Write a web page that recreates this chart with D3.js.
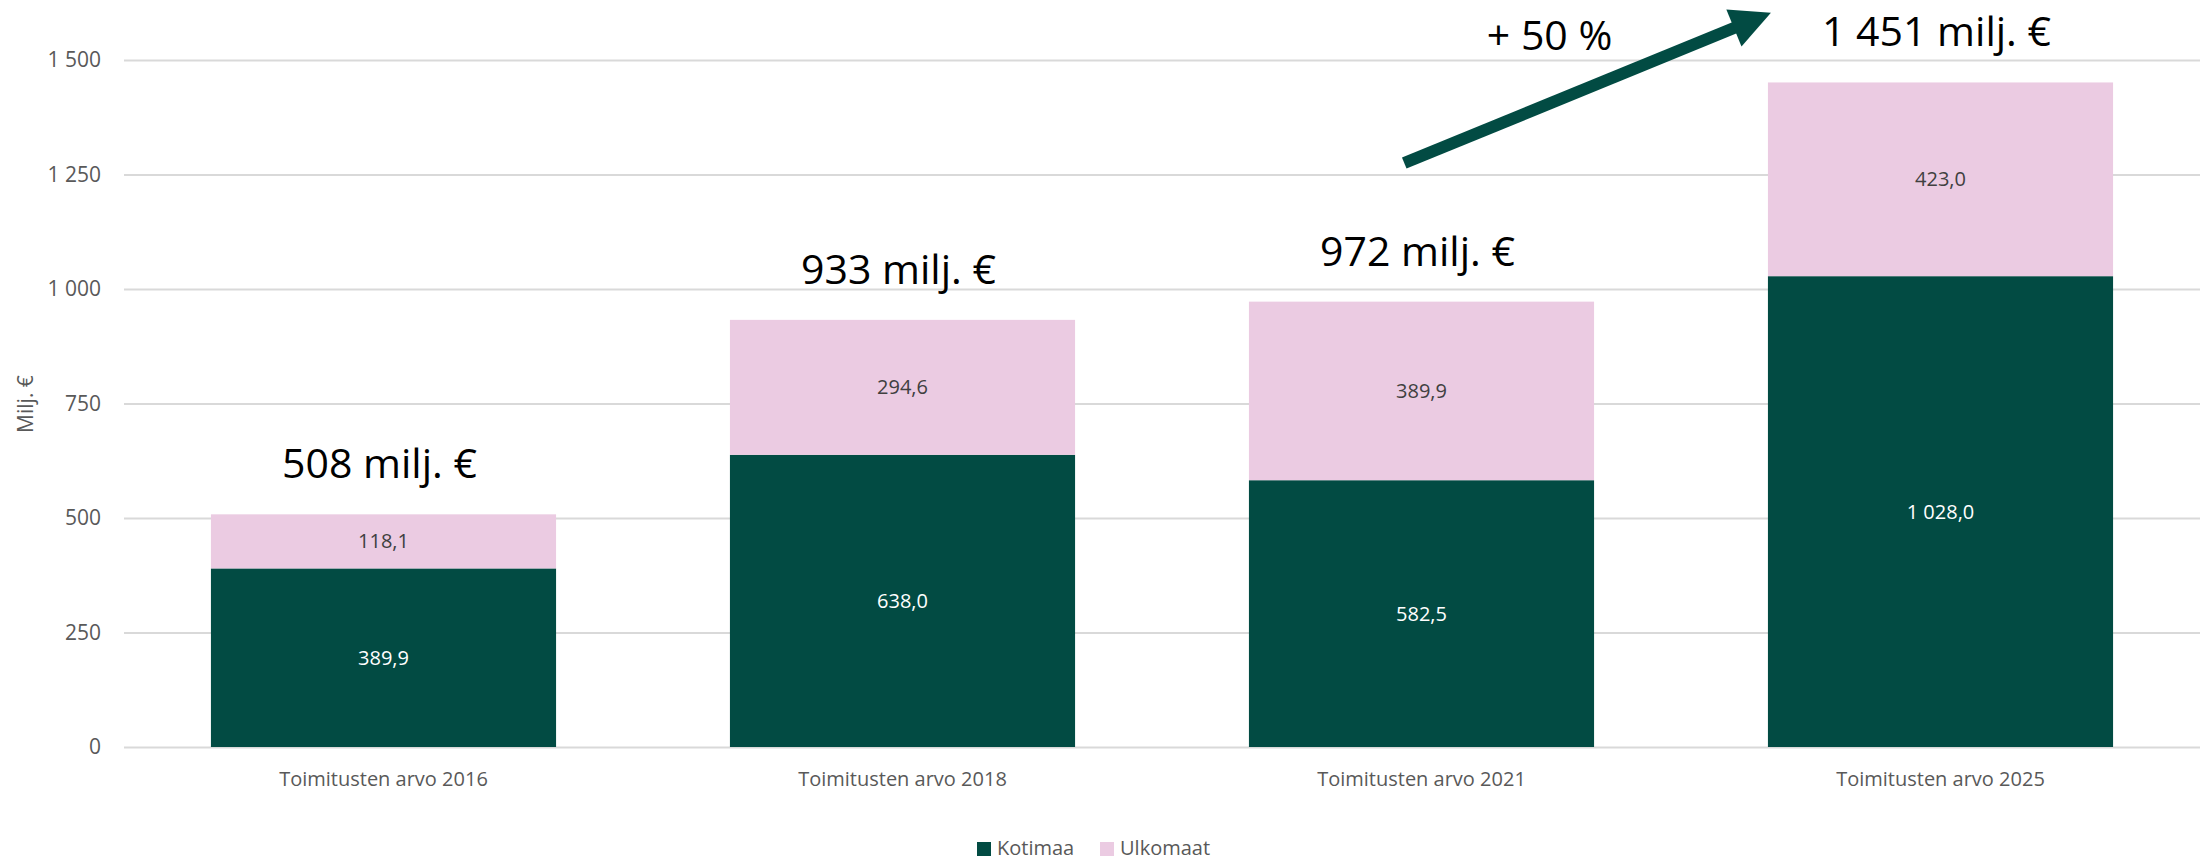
<!DOCTYPE html>
<html>
<head>
<meta charset="utf-8">
<script src="https://cdn.jsdelivr.net/npm/d3@7"></script>
<style>
  html, body { margin: 0; padding: 0; background: #fff; }
  svg { display: block; font-family: "Open Sans", sans-serif; }
</style>
</head>
<body>
<div id="chart"></div>
<script>
const categories = ['Toimitusten arvo 2016', 'Toimitusten arvo 2018', 'Toimitusten arvo 2021', 'Toimitusten arvo 2025'];
const kotimaa = [389.9, 638.0, 582.5, 1028.0];
const ulkomaat = [118.1, 294.6, 389.9, 423.0];
const totalLabels = ['508 milj. €', '933 milj. €', '972 milj. €', '1 451 milj. €'];
const yTicks = [0, 250, 500, 750, 1000, 1250, 1500];
const seriesNames = ['Kotimaa', 'Ulkomaat'];
const colors = ['#024B43', '#EBCBE2'];
const growthLabel = '+ 50 %';

const width = 2208, height = 862;

const svg = d3.select('#chart')
  .append('svg')
    .attr('width', width)
    .attr('height', height);

const x = d3.scaleBand()
  .domain(categories)
  .range([124, 2200])
  .paddingInner(0.335)
  .paddingOuter(0.1675);

const y = d3.scaleLinear()
  .domain([0, 1500])
  .range([747, 60]);

const fmt = v => d3.format(',.1f')(v).replace(/,/g, ' ').replace('.', ',');
const fmtTick = v => d3.format(',')(v).replace(/,/g, ' ');

// gridlines + y axis labels
const yAxis = svg.append('g')
  .attr('transform', 'translate(124,0)')
  .call(d3.axisLeft(y).tickValues(yTicks).tickSize(-2076).tickFormat(fmtTick).tickPadding(23));
yAxis.select('.domain').remove();
yAxis.selectAll('.tick line').attr('stroke', '#D9D9D9').attr('stroke-width', 2);
yAxis.selectAll('.tick text')
  .attr('fill', '#595959')
  .style('font-size', '21px')
  .style('font-family', '"Open Sans", sans-serif');

svg.append('text')
  .attr('transform', 'translate(33,404) rotate(-90)')
  .attr('text-anchor', 'middle')
  .attr('fill', '#595959')
  .style('font-size', '21px')
  .text('Milj. €');

// stacked bars
const rows = categories.map((c, i) => ({category: c, Kotimaa: kotimaa[i], Ulkomaat: ulkomaat[i]}));
const stacked = d3.stack().keys(seriesNames)(rows);

stacked.forEach((layer, li) => {
  const g = svg.append('g');
  g.selectAll('rect')
    .data(layer)
    .enter()
    .append('rect')
      .attr('x', d => x(d.data.category))
      .attr('width', x.bandwidth())
      .attr('y', d => y(d[1]))
      .attr('height', d => y(d[0]) - y(d[1]))
      .attr('fill', colors[li]);

  g.selectAll('text')
    .data(layer)
    .enter()
    .append('text')
      .attr('x', d => x(d.data.category) + x.bandwidth() / 2)
      .attr('y', d => (y(d[0]) + y(d[1])) / 2)
      .attr('dy', '0.35em')
      .attr('text-anchor', 'middle')
      .attr('fill', li == 0 ? '#FFFFFF' : '#404040')
      .style('font-size', '20px')
      .text(d => fmt(d[1] - d[0]));
});

// totals above bars
svg.append('g')
  .selectAll('text')
  .data(rows)
  .enter()
  .append('text')
    .attr('x', d => x(d.category) + x.bandwidth() / 2 - 4)
    .attr('y', d => y(d.Kotimaa + d.Ulkomaat) - 36)
    .attr('text-anchor', 'middle')
    .attr('fill', '#000')
    .style('font-size', '41px')
    .text((d, i) => totalLabels[i]);

// category axis labels
svg.append('g')
  .selectAll('text')
  .data(categories)
  .enter()
  .append('text')
    .attr('x', d => x(d) + x.bandwidth() / 2)
    .attr('y', 786)
    .attr('text-anchor', 'middle')
    .attr('fill', '#595959')
    .style('font-size', '20px')
    .text(d => d);

// growth arrow, anchored to the 2021 and 2025 bars
const x0 = x(categories[2]) + x.bandwidth() * 0.45, y0 = y(1275);
const x1 = x(categories[3]) + 3, y1 = y(1603);
const ang = Math.atan2(y1 - y0, x1 - x0);
const headLen = 40, headHalf = 20;
const bx = x1 - headLen * Math.cos(ang), by = y1 - headLen * Math.sin(ang);
const px = -Math.sin(ang), py = Math.cos(ang);

svg.append('line')
  .attr('x1', x0).attr('y1', y0)
  .attr('x2', bx + 2 * Math.cos(ang)).attr('y2', by + 2 * Math.sin(ang))
  .attr('stroke', colors[0])
  .attr('stroke-width', 12);

svg.append('path')
  .attr('d', `M${x1},${y1} L${bx + px * headHalf},${by + py * headHalf} L${bx - px * headHalf},${by - py * headHalf} Z`)
  .attr('fill', colors[0]);

svg.append('text')
  .attr('x', (x0 + x1) / 2 - 38)
  .attr('y', 50)
  .attr('text-anchor', 'middle')
  .attr('fill', '#000')
  .style('font-size', '41px')
  .text(growthLabel);

// legend
const legend = svg.append('g').attr('transform', 'translate(977,842)');
const legendX = [0, 123];
seriesNames.forEach((name, i) => {
  legend.append('rect')
    .attr('x', legendX[i]).attr('y', 0)
    .attr('width', 14).attr('height', 14)
    .attr('fill', colors[i]);
  legend.append('text')
    .attr('x', legendX[i] + 20).attr('y', 7)
    .attr('dy', '0.3em')
    .attr('fill', '#595959')
    .style('font-size', '20px')
    .text(name);
});
</script>
</body>
</html>
